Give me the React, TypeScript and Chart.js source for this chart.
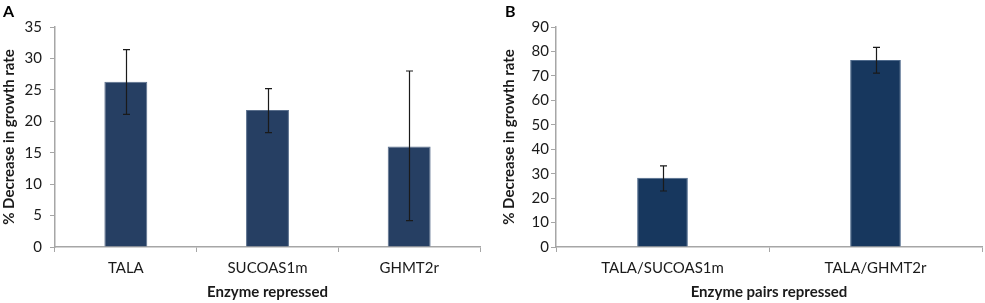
import React, { useEffect, useRef } from "react";
import { Chart, registerables } from "chart.js";

Chart.register(...registerables);

const categoriesA = ["TALA", "SUCOAS1m", "GHMT2r"];
const valuesA = [26.3, 21.8, 16.0];
const errLowA = [21.1, 18.2, 4.2];
const errHighA = [31.4, 25.2, 28.0];

const categoriesB = ["TALA/SUCOAS1m", "TALA/GHMT2r"];
const valuesB = [28.3, 76.5];
const errLowB = [22.9, 71.1];
const errHighB = [33.2, 81.7];

const FONT = "Lato, 'Liberation Sans', sans-serif";

const errorBarPlugin = {
  id: "errorBars",
  afterDatasetsDraw(chart: any, _args: any, opts: any) {
    const { ctx } = chart;
    const meta = chart.getDatasetMeta(0);
    const y = chart.scales.y;
    ctx.save();
    ctx.strokeStyle = "#1a1a1a";
    ctx.lineWidth = 1.2;
    meta.data.forEach((bar: any, i: number) => {
      const x = Math.round(bar.x) + 0.5;
      const yLo = y.getPixelForValue(opts.low[i]);
      const yHi = y.getPixelForValue(opts.high[i]);
      ctx.beginPath();
      ctx.moveTo(x, yLo);
      ctx.lineTo(x, yHi);
      ctx.moveTo(x - 3.5, yLo);
      ctx.lineTo(x + 3.5, yLo);
      ctx.moveTo(x - 3.5, yHi);
      ctx.lineTo(x + 3.5, yHi);
      ctx.stroke();
    });
    ctx.restore();
  },
};

type PanelProps = {
  labels: string[];
  values: number[];
  low: number[];
  high: number[];
  yMax: number;
  step: number;
  xTitle: string;
  color: string;
  border: string;
  barPct: number;
  yWidth: number;
  tickPad: number;
  titleCenterPad: number;
  rightPad: number;
};

function Panel(p: PanelProps) {
  const ref = useRef<HTMLCanvasElement>(null);
  useEffect(() => {
    if (!ref.current) return;
    const axisColor = "#a6a6a6";
    const chart = new Chart(ref.current, {
      type: "bar",
      data: {
        labels: p.labels,
        datasets: [
          {
            data: p.values,
            backgroundColor: p.color,
            borderColor: p.border,
            borderWidth: 1,
            barPercentage: p.barPct,
            categoryPercentage: 1,
          },
        ],
      },
      plugins: [errorBarPlugin],
      options: {
        animation: false,
        responsive: true,
        maintainAspectRatio: false,
        layout: { padding: { top: 27, right: p.rightPad, left: 0, bottom: 0 } },
        plugins: {
          legend: { display: false },
          tooltip: { enabled: false },
          errorBars: { low: p.low, high: p.high },
        } as any,
        scales: {
          x: {
            grid: {
              offset: true,
              drawOnChartArea: false,
              color: axisColor,
              tickLength: 5,
            },
            border: { color: axisColor, width: 1.5 },
            ticks: {
              color: "#1a1a1a",
              font: { family: FONT, size: 15 },
              padding: 7,
              maxRotation: 0,
            },
            title: {
              display: true,
              text: p.xTitle,
              color: "#1a1a1a",
              font: { family: FONT, size: 15, weight: "bold" },
              padding: { top: 0, bottom: 2 },
            },
            afterFit(scale: any) {
              scale.height = 56;
            },
          },
          y: {
            min: 0,
            max: p.yMax,
            grid: {
              drawOnChartArea: false,
              color: axisColor,
              tickLength: 5,
            },
            border: { color: axisColor, width: 1.5 },
            ticks: {
              stepSize: p.step,
              color: "#1a1a1a",
              font: { family: FONT, size: 15 },
              padding: p.tickPad,
            },
            title: {
              display: true,
              text: "% Decrease in growth rate",
              color: "#1a1a1a",
              font: { family: FONT, size: 15, weight: "bold" },
              padding: { top: p.titleCenterPad, bottom: 0 },
            },
            afterFit(scale: any) {
              scale.width = p.yWidth;
            },
          },
        },
      },
    });
    return () => chart.destroy();
  }, []);
  return <canvas ref={ref} />;
}

export default function App() {
  const letter: React.CSSProperties = {
    position: "absolute",
    top: 1,
    fontFamily: FONT,
    fontWeight: "bold",
    fontSize: 16,
    color: "#000",
  };
  return (
    <div style={{ position: "absolute", left: 0, top: 0, width: 985, height: 303, background: "#fff" }}>
      <div style={{ position: "absolute", left: 0, top: 0, width: 490, height: 303 }}>
        <Panel
          labels={categoriesA}
          values={valuesA}
          low={errLowA}
          high={errHighA}
          yMax={35}
          step={5}
          xTitle="Enzyme repressed"
          color="#263f63"
          border="#5a6f8c"
          barPct={0.303}
          yWidth={55}
          tickPad={8}
          titleCenterPad={0}
          rightPad={10}
        />
      </div>
      <div style={{ position: "absolute", left: 495, top: 0, width: 490, height: 303 }}>
        <Panel
          labels={categoriesB}
          values={valuesB}
          low={errLowB}
          high={errHighB}
          yMax={90}
          step={10}
          xTitle="Enzyme pairs repressed"
          color="#17375e"
          border="#4f6a8c"
          barPct={0.238}
          yWidth={61}
          tickPad={2}
          titleCenterPad={5}
          rightPad={3}
        />
      </div>
      <div style={{ ...letter, left: 3 }}>A</div>
      <div style={{ ...letter, left: 505 }}>B</div>
    </div>
  );
}
